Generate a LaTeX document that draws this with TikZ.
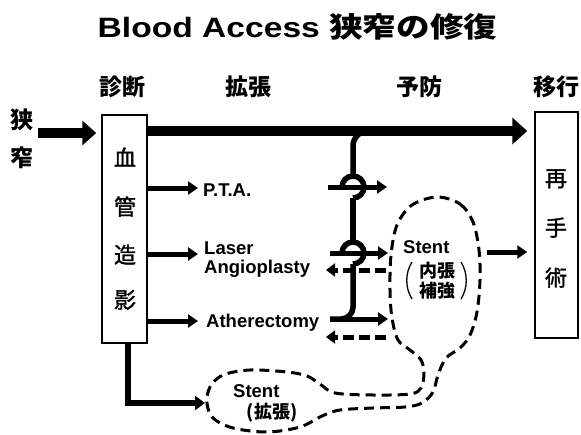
\documentclass[tikz,border=0pt]{standalone}
\usepackage{graphicx}
\usepackage{fontspec}
\setmainfont{Liberation Sans}
\newfontfamily\cjk{Noto Sans CJK JP}
\newfontfamily\cjkm{Noto Sans CJK JP}[FakeBold=1.5]
\usetikzlibrary{arrows.meta}
\begin{document}
\begin{tikzpicture}[x=1pt,y=-1pt,
  txt/.style={inner sep=0pt, anchor=base west, font=\fontsize{18.5}{19}\selectfont\bfseries},
  hdr/.style={inner sep=0pt, anchor=base, font=\fontsize{23}{25}\selectfont\cjk\bfseries},
  boxch/.style={inner sep=0pt, anchor=base, font=\fontsize{22}{24}\selectfont\cjkm},
  jtxt/.style={inner sep=0pt, anchor=base, font=\fontsize{18}{20}\selectfont\cjk\bfseries},
  frame/.style={draw, line width=1.5pt, inner sep=0pt},
  bigarrow/.style={line width=10pt, -{Triangle[length=15pt,width=26pt]}},
  medarrow/.style={line width=5pt, -{Triangle[length=10pt,width=13pt]}},
  dasharrow/.style={line width=5pt, dash pattern=on 11pt off 5pt, -{Triangle[length=9pt,width=13pt]}},
  pipe/.style={line width=5.5pt},
  blob/.style={line width=3pt, dash pattern=on 10pt off 6pt}
]
\useasboundingbox (0,0) rectangle (581,434);

% title
\node[inner sep=0pt, anchor=base] (title) at (297.5,37)
  {\scalebox{1.2}[1]{\fontsize{28}{30}\selectfont\bfseries Blood Access {\cjk 狭窄の修復}}};

% headers
\node[hdr] (h1) at (122.5,95.5) {診断};
\node[hdr] (h2) at (248,95.5) {拡張};
\node[hdr] (h3) at (419,95.5) {予防};
\node[hdr] (h4) at (556,95.5) {移行};

% left label
\node[inner sep=0pt, anchor=base west, font=\fontsize{23}{25}\selectfont\cjk\bfseries] (k1) at (10,128) {狭};
\node[inner sep=0pt, anchor=base west, font=\fontsize{23}{25}\selectfont\cjk\bfseries] (k2) at (10,166) {窄};

% boxes
\node[frame, minimum width=45pt, minimum height=228pt] (ang) at (124.5,229) {};
\node[boxch] (a1) at (125,166) {血};
\node[boxch] (a2) at (125,215) {管};
\node[boxch] (a3) at (125,263) {造};
\node[boxch] (a4) at (125,308) {影};

\node[frame, minimum width=43pt, minimum height=226pt] (redo) at (556.5,225) {};
\node[boxch] (r1) at (556,186.5) {再};
\node[boxch] (r2) at (556,236) {手};
\node[boxch] (r3) at (556,286) {術};

% texts
\node[txt] (pta) at (203,196) {P.T.A.};
\node[txt] (laser) at (204,254) {Laser};
\node[txt] (angio) at (204,273) {Angioplasty};
\node[txt] (ather) at (206,327) {Atherectomy};
\node[txt] (st1) at (403,253) {Stent};
\node[jtxt] (st1a) at (437,277) {内張};
\node[jtxt] (st1b) at (437,297) {補強};
\node[txt] (st2) at (233,397) {Stent};
\node[jtxt] (st2a) at (272,418) {(拡張)};

% parentheses around 内張 補強
\draw[line width=1.3pt] (412,262) .. controls (405,273) and (405,288) .. (412,299);
\draw[line width=1.3pt] (461,262) .. controls (468,273) and (468,288) .. (461,299);

% coordinates
\coordinate (entry) at (38,133);
\coordinate (main) at (0,131);
\coordinate (bx) at (128,0);
\coordinate (ovr) at (487,252);

% entry arrow
\draw[line width=10pt, -{Triangle[length=14pt,width=24pt]}] (entry) -- ([xshift=-5pt]ang.west |- entry);
% main line
\draw[bigarrow] (ang.east |- main) -- ([xshift=-7pt]redo.west |- main);

% dilation arrows
\draw[medarrow] (ang.east |- 0,188) -- ([xshift=-5pt]pta.west |- 0,188);
\draw[medarrow] (ang.east |- 0,254) -- ([xshift=-6pt]laser.west |- 0,254);
\draw[medarrow] (ang.east |- 0,321) -- ([xshift=-8pt]ather.west |- 0,321);
\draw[line width=6pt, -{Triangle[length=10pt,width=14pt]}] (ang.south -| bx) -- (128,403) -- (205,403);

% prevention branch
\draw[pipe, rounded corners=15pt] (395,131) -| (353,176);
\draw[pipe] (342,187) arc[start angle=180, end angle=450, radius=11];
\draw[pipe] (353,198) -- (353,242);
\draw[pipe] (342,253) arc[start angle=180, end angle=450, radius=11];
\draw[pipe, rounded corners=12pt] (353,264) |- (330,319);
\draw[medarrow] (328,187) -- (387,187);
\draw[medarrow] (330,253) -- (388,253);
\draw[medarrow] (330,319) -- (388,319);
\draw[dasharrow] (386,270) -- (326,270);
\draw[dasharrow] (386,337) -- (326,337);

% stent outline
\draw[blob] plot[smooth cycle, tension=0.55] coordinates {
 (437,197) (460,204) (473,222) (479,250) (480,280) (477,312) (470,335) (460,348)
 (446,358) (438,375) (433,392) (422,403) (405,407) (373,408) (340,410) (322,416)
 (300,427) (267,432) (233,428) (213,418) (207,403) (210,387) (223,375) (250,370)
 (287,372) (307,376) (320,384) (335,393) (373,395) (410,394) (421,388) (424,373)
 (421,360) (410,350) (398,340) (392,318) (390,290) (391,255) (397,225) (412,205)};

% to re-operation
\draw[medarrow] (ovr) -- ([xshift=-7pt]redo.west |- ovr);
\end{tikzpicture}
\end{document}
